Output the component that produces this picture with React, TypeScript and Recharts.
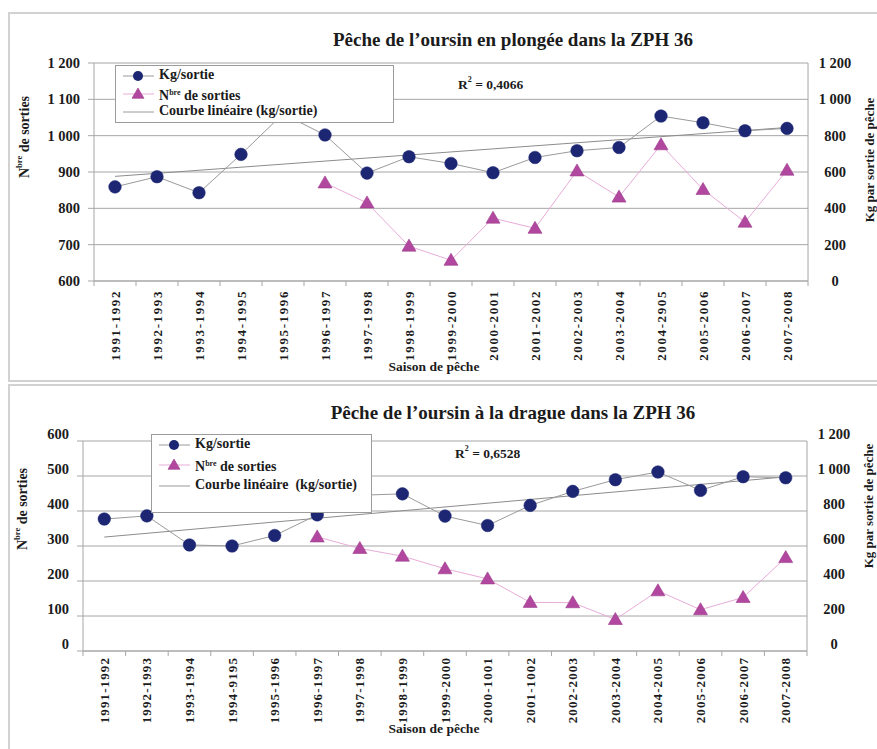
import { ComposedChart, Line, XAxis, YAxis, CartesianGrid, Legend } from "recharts";

// ---- data ----
const seasonsPlongee = [
  "1991-1992", "1992-1993", "1993-1994", "1994-1995", "1995-1996", "1996-1997",
  "1997-1998", "1998-1999", "1999-2000", "2000-2001", "2001-2002", "2002-2003",
  "2003-2004", "2004-2905", "2005-2006", "2006-2007", "2007-2008",
];
// Kg par sortie (right axis)
const kgPlongee = [518, 574, 486, 697, 920, 804, 594, 684, 647, 596, 680, 717, 735, 908, 871, 827, 840];
// Nbre de sorties (left axis)
const sortiesPlongee = [null, null, null, null, null, 870, 815, 696, 657, 773, 745, 903, 831, 975, 852, 762, 905];
// linear trend of kg/sortie, first and last season
const trendPlongee = [576, 845];

const seasonsDrague = [
  "1991-1992", "1992-1993", "1993-1994", "1994-9195", "1995-1996", "1996-1997",
  "1997-1998", "1998-1999", "1999-2000", "2000-1001", "2001-1002", "2002-2003",
  "2003-2004", "2004-2005", "2005-2006", "2006-2007", "2007-2008",
];
const kgDrague = [754, 772, 606, 600, 660, 778, 890, 898, 771, 717, 832, 912, 979, 1023, 918, 996, 990];
const sortiesDrague = [null, null, null, null, null, 326, 293, 271, 235, 206, 139, 138, 90, 172, 118, 153, 267];
const trendDrague = [651, 995];

const ticksPlongeeLeft = [600, 700, 800, 900, 1000, 1100, 1200];
const ticksDragueLeft = [0, 100, 200, 300, 400, 500, 600];
const ticksRight = [0, 200, 400, 600, 800, 1000, 1200];

const FONT = '"Liberation Serif", "DejaVu Serif", serif';
const INK = "#1b1b1b";
const GRID = "#a6a6a6";
const NAVY = "#1d2672";
const MAGENTA = "#b2479f";
const PINK = "#e8acd9";
const GREYLINE = "#9a9a9a";

const fmt = (v: number) => (v >= 1000 ? `${Math.floor(v / 1000)} ${String(v % 1000).padStart(3, "0")}` : String(v));

function buildRows(seasons: string[], kg: number[], sorties: (number | null)[], trend: number[]) {
  return seasons.map((s, i) => ({
    i,
    season: s,
    kg: kg[i],
    nb: sorties[i],
    trend: i === 0 ? trend[0] : i === seasons.length - 1 ? trend[1] : null,
  }));
}

const Triangle = (props: any) => {
  const { cx, cy, size = 7 } = props;
  if (cx == null || cy == null || props.value == null) return null;
  return (
    <path
      d={`M${cx},${cy - size} L${cx - size},${cy + size * 0.72} L${cx + size},${cy + size * 0.72} Z`}
      fill={MAGENTA}
      stroke="#9a3a8a"
      strokeWidth={0.6}
    />
  );
};

const LeftTick = ({ x, y, payload, dy }: any) => (
  <text x={x} y={y + dy} textAnchor="end" dominantBaseline="central" fontFamily={FONT} fontWeight="bold" fontSize={14.5} fill={INK}>
    {fmt(payload.value)}
  </text>
);

const RightTick = ({ x, y, payload, dy }: any) => (
  <text x={x + 27} y={y + dy} textAnchor="middle" dominantBaseline="central" fontFamily={FONT} fontWeight="bold" fontSize={14.5} fill={INK}>
    {fmt(payload.value)}
  </text>
);

const SeasonTick = ({ x, y, payload, labels, step, gap, spacing }: any) => {
  const i = payload.value;
  const last = i === labels.length - 1;
  return (
    <g>
      <line x1={x - step / 2} x2={x - step / 2} y1={y} y2={y + 5} stroke={GRID} />
      {last && <line x1={x + step / 2} x2={x + step / 2} y1={y} y2={y + 5} stroke={GRID} />}
      <text
        x={x}
        y={y + gap}
        transform={`rotate(-90, ${x}, ${y + gap})`}
        textAnchor="end"
        dominantBaseline="central"
        fontFamily={FONT}
        fontWeight="bold"
        fontSize={13}
        letterSpacing={spacing}
        fill={INK}
      >
        {labels[i]}
      </text>
    </g>
  );
};

interface LegendLayout {
  width: number;
  height: number;
  rows: number[];
  trendLabel: string;
}

function LegendBox({ width, height, rows, trendLabel }: LegendLayout) {
  const text = { position: "absolute" as const, left: 43, fontFamily: FONT, fontWeight: "bold" as const, fontSize: 14, color: INK, lineHeight: "15px", whiteSpace: "pre" as const };
  return (
    <div style={{ position: "relative", width, height, border: "1px solid #9c9c9c", background: "#fff", boxSizing: "border-box" }}>
      <svg width={42} height={height} style={{ position: "absolute", left: 0, top: 0 }}>
        <line x1={7} x2={38} y1={rows[0]} y2={rows[0]} stroke={GREYLINE} />
        <circle cx={22} cy={rows[0]} r={5} fill={NAVY} />
        <line x1={7} x2={38} y1={rows[1]} y2={rows[1]} stroke={PINK} />
        <Triangle cx={22} cy={rows[1]} size={6} value={1} />
        <line x1={7} x2={38} y1={rows[2]} y2={rows[2]} stroke={GREYLINE} />
      </svg>
      <div style={{ ...text, top: rows[0] - 9 }}>Kg/sortie</div>
      <div style={{ ...text, top: rows[1] - 9 }}>
        N<sup style={{ fontSize: 8, verticalAlign: 5 }}>bre</sup> de sorties
      </div>
      <div style={{ ...text, top: rows[2] - 9 }}>{trendLabel}</div>
    </div>
  );
}

interface PanelProps {
  top: number;
  height: number;
  title: string;
  titleY: number;
  r2: string;
  r2Pos: [number, number];
  seasons: string[];
  kg: number[];
  sorties: (number | null)[];
  trend: number[];
  leftDomain: [number, number];
  leftTicks: number[];
  plot: { left: number; right: number; top: number; bottom: number };
  tickDy: number;
  labelGap: number;
  labelSpacing: number;
  leftTitle: [number, number];
  rightTitle: [number, number];
  xTitleY: number;
  legendPos: [number, number];
  legend: LegendLayout;
}

function Panel(p: PanelProps) {
  const W = 877;
  const data = buildRows(p.seasons, p.kg, p.sorties, p.trend);
  const step = (p.plot.right - p.plot.left) / p.seasons.length;
  const bold = { fontFamily: FONT, fontWeight: "bold" as const, fill: INK };
  return (
    <div style={{ position: "absolute", left: 0, top: p.top, width: W, height: p.height }}>
      <ComposedChart
        width={W}
        height={p.height}
        data={data}
        margin={{ top: p.plot.top, right: 0, bottom: 0, left: 0 }}
      >
        <CartesianGrid yAxisId="left" vertical={false} stroke={GRID} />
        <XAxis
          dataKey="i"
          type="number"
          domain={[-0.5, p.seasons.length - 0.5]}
          ticks={data.map((d) => d.i)}
          interval={0}
          height={p.height - p.plot.bottom}
          tickSize={0}
          tickMargin={0}
          stroke={GRID}
          tick={(t: any) => <SeasonTick {...t} labels={p.seasons} step={step} gap={p.labelGap} spacing={p.labelSpacing} />}
        />
        <YAxis
          yAxisId="left"
          orientation="left"
          width={p.plot.left}
          domain={p.leftDomain}
          ticks={p.leftTicks}
          interval={0}
          tickSize={6}
          tickMargin={8}
          stroke={GRID}
          tick={(t: any) => <LeftTick {...t} dy={p.tickDy} />}
        />
        <YAxis
          yAxisId="right"
          orientation="right"
          width={W - p.plot.right}
          domain={[0, 1200]}
          ticks={ticksRight}
          interval={0}
          tickSize={0}
          tickMargin={0}
          stroke={GRID}
          tick={(t: any) => <RightTick {...t} dy={p.tickDy} />}
        />
        <Line
          yAxisId="right"
          dataKey="trend"
          stroke="#8c8c8c"
          strokeWidth={1}
          dot={false}
          activeDot={false}
          connectNulls
          isAnimationActive={false}
        />
        <Line
          yAxisId="left"
          dataKey="nb"
          stroke={PINK}
          strokeWidth={1}
          dot={<Triangle />}
          activeDot={false}
          isAnimationActive={false}
        />
        <Line
          yAxisId="right"
          dataKey="kg"
          stroke={GREYLINE}
          strokeWidth={1}
          dot={{ r: 6.3, fill: NAVY, stroke: NAVY, strokeWidth: 0.5 }}
          activeDot={false}
          isAnimationActive={false}
        />
        <Legend
          layout="vertical"
          align="center"
          verticalAlign="middle"
          wrapperStyle={{ left: p.legendPos[0], top: p.legendPos[1], width: p.legend.width, height: p.legend.height }}
          content={() => <LegendBox {...p.legend} />}
        />
      </ComposedChart>
      <svg width={W} height={p.height} style={{ position: "absolute", left: 0, top: 0, pointerEvents: "none" }}>
        <text x={513} y={p.titleY} textAnchor="middle" dominantBaseline="central" fontSize={19} {...bold}>
          {p.title}
        </text>
        <text x={p.r2Pos[0]} y={p.r2Pos[1]} dominantBaseline="central" fontSize={13.5} {...bold}>
          R<tspan fontSize={8} dy={-5}>2</tspan>
          <tspan dy={5}>{` = ${p.r2}`}</tspan>
        </text>
        <text
          x={p.leftTitle[0]}
          y={p.leftTitle[1]}
          transform={`rotate(-90, ${p.leftTitle[0]}, ${p.leftTitle[1]})`}
          textAnchor="middle"
          dominantBaseline="central"
          fontSize={14}
          {...bold}
        >
          N<tspan fontSize={8.5} dy={-5}>bre</tspan>
          <tspan dy={5}> de sorties</tspan>
        </text>
        <text
          x={p.rightTitle[0]}
          y={p.rightTitle[1]}
          transform={`rotate(-90, ${p.rightTitle[0]}, ${p.rightTitle[1]})`}
          textAnchor="middle"
          dominantBaseline="central"
          fontSize={13}
          {...bold}
        >
          Kg par sortie de pêche
        </text>
        <text x={434} y={p.xTitleY} textAnchor="middle" dominantBaseline="central" fontSize={13.5} {...bold}>
          Saison de pêche
        </text>
      </svg>
    </div>
  );
}

export default function App() {
  const frame = { position: "absolute" as const, left: 8, width: 900, border: "2px solid #d2d2d2", boxSizing: "border-box" as const };
  return (
    <div style={{ position: "absolute", left: 0, top: 0, width: 877, height: 749, overflow: "hidden", background: "#fff" }}>
      <div style={{ ...frame, top: 12, height: 370 }} />
      <div style={{ ...frame, top: 384, height: 400 }} />
      <Panel
        top={0}
        height={381}
        title="Pêche de l’oursin en plongée dans la ZPH 36"
        titleY={39}
        r2="0,4066"
        r2Pos={[458, 84]}
        seasons={seasonsPlongee}
        kg={kgPlongee}
        sorties={sortiesPlongee}
        trend={trendPlongee}
        leftDomain={[600, 1200]}
        leftTicks={ticksPlongeeLeft}
        plot={{ left: 94, right: 808, top: 63, bottom: 281 }}
        tickDy={0}
        labelGap={9}
        labelSpacing={1.6}
        leftTitle={[24, 137]}
        rightTitle={[869, 160]}
        xTitleY={366}
        legendPos={[115, 65]}
        legend={{ width: 279, height: 58, rows: [10, 28, 46], trendLabel: "Courbe linéaire (kg/sortie)" }}
      />
      <Panel
        top={380}
        height={369}
        title="Pêche de l’oursin à la drague dans la ZPH 36"
        titleY={32}
        r2="0,6528"
        r2Pos={[455, 73]}
        seasons={seasonsDrague}
        kg={kgDrague}
        sorties={sortiesDrague}
        trend={trendDrague}
        leftDomain={[0, 600]}
        leftTicks={ticksDragueLeft}
        plot={{ left: 83, right: 807, top: 61, bottom: 271 }}
        tickDy={-7}
        labelGap={6}
        labelSpacing={1.1}
        leftTitle={[22, 129]}
        rightTitle={[868, 126]}
        xTitleY={348}
        legendPos={[151, 54]}
        legend={{ width: 221, height: 79, rows: [10, 30, 51], trendLabel: "Courbe linéaire  (kg/sortie)" }}
      />
    </div>
  );
}
